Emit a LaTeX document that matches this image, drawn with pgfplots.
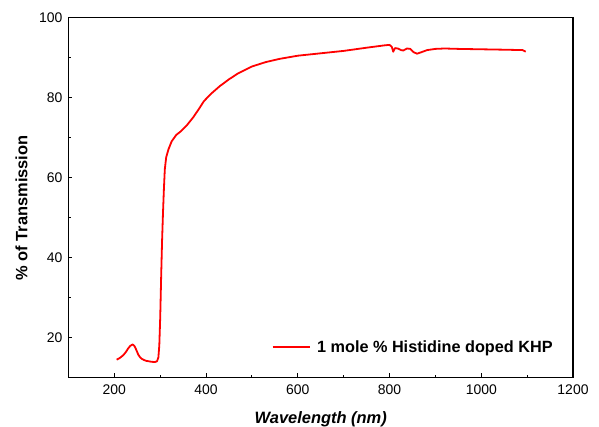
\documentclass[border=0pt]{standalone}
\usepackage{fontspec}
\setmainfont{Liberation Sans}
\usepackage{pgfplots}
\pgfplotsset{compat=1.18}
\begin{document}
\begin{tikzpicture}
\begin{axis}[name=ax, scale only axis, width=504.5bp, height=360bp,
  xmin=100, xmax=1200, ymin=10, ymax=100,
  xtick={200,400,...,1200}, minor xtick={300,500,...,1100},
  ytick={20,40,...,100}, minor ytick={30,50,70,90},
  tick align=inside, xtick pos=left, ytick pos=left,
  major tick length=4bp, minor tick length=2.5bp,
  axis line style={line width=1.2bp},
  every tick/.style={line width=1bp, black},
  tick label style={font=\fontsize{14}{16}\selectfont},
  /pgf/number format/assume math mode=true,
  /pgf/number format/1000 sep={},
  xticklabel style={inner sep=0pt, yshift=-7.7bp},
  yticklabel style={inner sep=0pt, xshift=-5.8bp},
  label style={font=\bfseries\fontsize{16.5}{19}\selectfont},
  xlabel={\textit{Wavelength (nm)}}, ylabel={\% of Transmission},
  every axis x label/.append style={at={(axis description cs:0.5,-0.117)}, anchor=center},
  every axis y label/.append style={at={(axis description cs:-0.0932,0.47)}, anchor=center},
  legend style={draw=none, fill=none, inner sep=0pt, at={(axis description cs:0.96,0.084)}, anchor=east,
    font=\bfseries\fontsize{16.3}{19}\selectfont, nodes={inner sep=0pt}},
  legend image code/.code={\draw[#1] (0bp,0bp) -- (37bp,0bp); \path (43.7bp,0bp);},
]
\addplot[red, line width=1.8bp, line join=round] table {
x y
205 14.4
210 14.7
215 15.1
220 15.6
225 16.3
230 17.2
235 17.9
240 18.2
244 17.8
248 16.8
252 15.7
256 15.0
260 14.6
265 14.3
270 14.1
280 13.9
288 13.8
293 14.0
296 15.0
298 18
300 25
302 35
304 44
306 51
308 57
310 62
313 65
318 67
325 69
335 70.6
345 71.5
358 73
372 75
385 77.2
395 79
410 80.8
430 82.8
450 84.5
470 86
500 87.7
530 88.8
560 89.6
600 90.4
650 91.0
700 91.6
750 92.4
790 93.0
800 93.1
805 92.6
808 91.4
812 92.3
818 92.2
825 91.8
830 91.7
838 92.2
845 92.1
852 91.3
860 90.9
870 91.3
882 91.8
900 92.1
920 92.2
950 92.1
1000 92.0
1050 91.9
1090 91.8
1097 91.4
};
\addlegendentry{1 mole \% Histidine doped KHP}
\end{axis}
\pgfresetboundingbox
\path ([shift={(-68.5bp,-49.7bp)}]ax.south west) rectangle ([shift={(26bp,17.3bp)}]ax.north east);
\end{tikzpicture}
\end{document}
